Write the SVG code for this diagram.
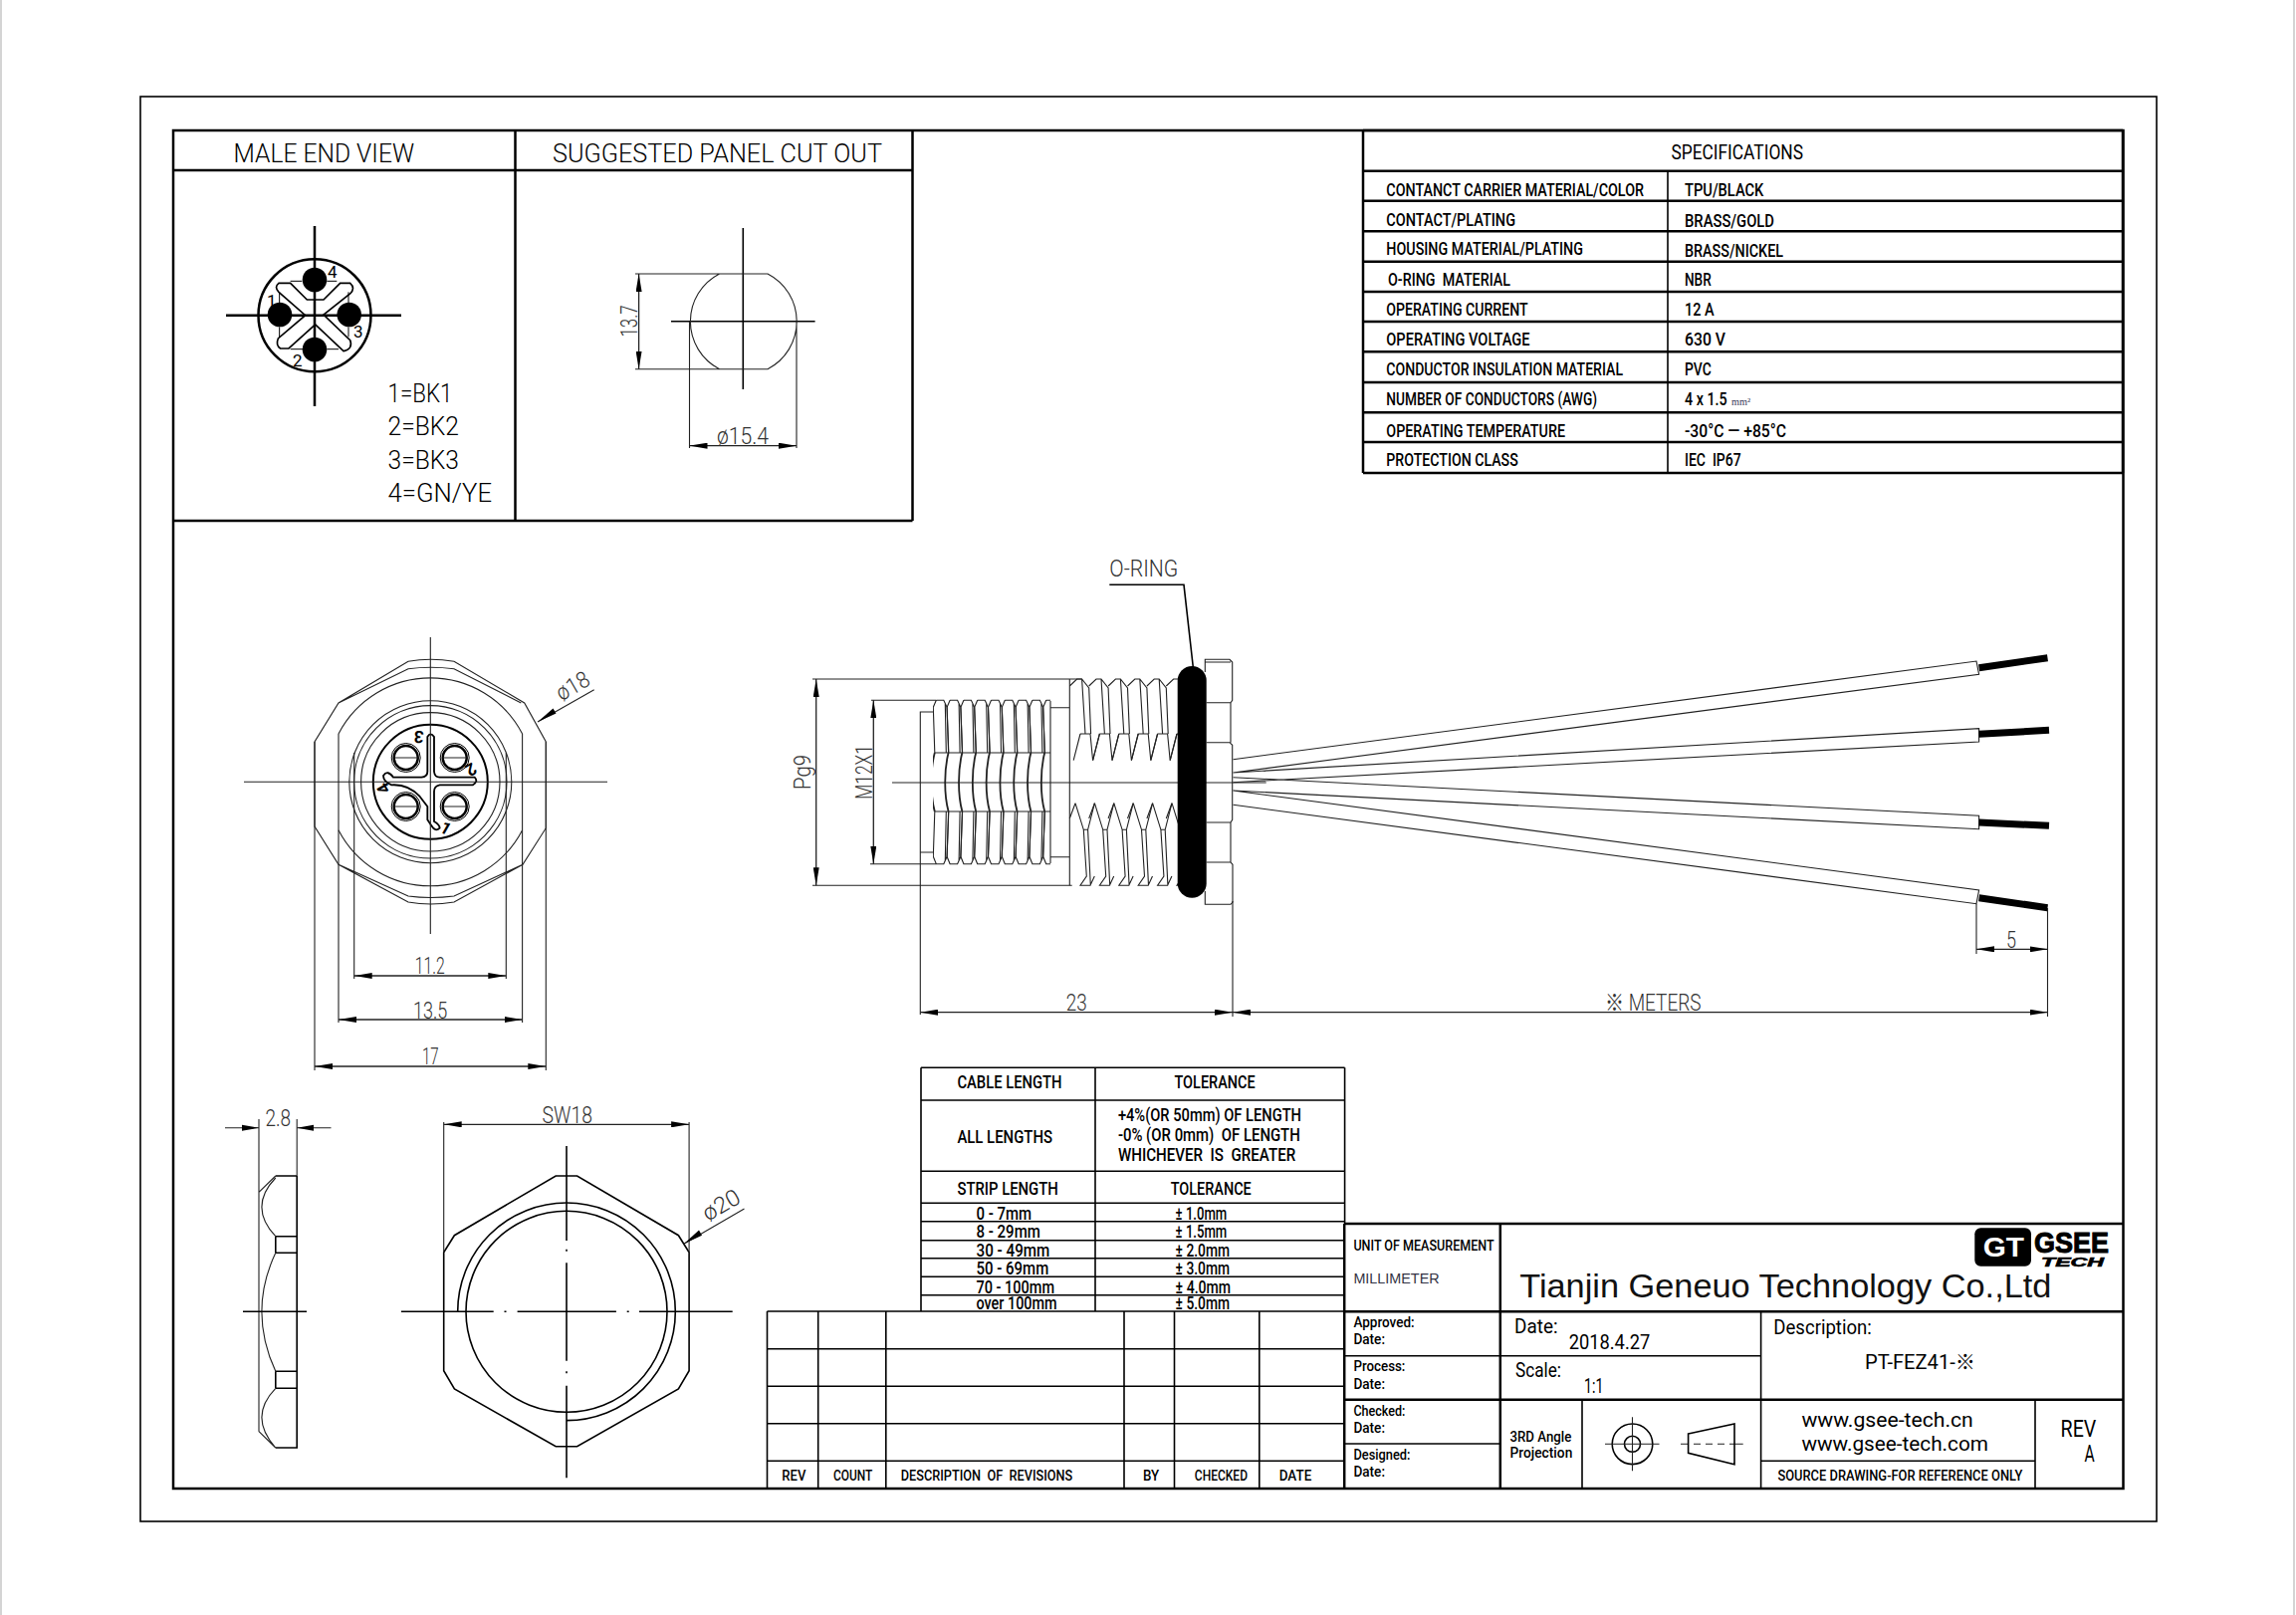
<svg xmlns="http://www.w3.org/2000/svg" width="2306" height="1622" viewBox="0 0 2306 1622">
<style>
text{font-family:"Liberation Sans",Arial,sans-serif;fill:#111}
.c{font-family:"Roboto","Liberation Sans",sans-serif;font-weight:300;fill:#000}
.n{font-family:"Roboto","Liberation Sans",sans-serif;font-weight:400;fill:#000}
.h{font-size:26px}.d{font-size:23px;fill:#333}
.b{font-family:"Roboto","Liberation Sans",sans-serif;font-weight:500;font-size:18px;fill:#000}
.s{font-size:15.5px}
.k{font-family:"Roboto","Liberation Sans",sans-serif;font-weight:700;font-size:17px;fill:#000;text-anchor:middle}
.f{fill:none;stroke:#000;stroke-width:2.5}
.m{fill:none;stroke:#000;stroke-width:1.6}
.t{fill:none;stroke:#222;stroke-width:1.1}
.dim{fill:none;stroke:#222;stroke-width:1.3;marker-start:url(#a);marker-end:url(#a)}
.w{fill:none;stroke:#000;stroke-width:7}
.th{fill:none;stroke:#222;stroke-width:1.1}
</style>
<defs>
<marker id="a" markerUnits="userSpaceOnUse" markerWidth="18" markerHeight="6" refX="18" refY="3" orient="auto-start-reverse"><path d="M0 0L18 3L0 6z" fill="#000"/></marker>
<clipPath id="cf"><rect x="937" y="700" width="118" height="170"/></clipPath>
<g id="f1"><path d="M3 0H10.5L13.8 7L15.5 52.7M3 0L0 7L1.5 52.7H15.5M12 3L13 52.7M1.5 111.7H15.5M1.5 111.7L0 157L3 164.4H10.500L13.8 157L15.5 111.7M12 161L13 111.7"/><path stroke-width="1.8" d="M1.5 52.7C-3 70-3 95 1.5 111.7"/></g>
<path id="r1" d="M0 7L7.3 0H12.3L19.4 9L21.3 55M12.3 0L15.7 55M10.7 55H20.7L23.3 81.7L30.1 55M10.7 55L3.9 81.7M5.7 124.7L14 151.3H18.3L25.1 124.7M5.7 124.7L0 140M14 151.3L17 198L10.7 207.3H20.7L25 198M18.3 151.3L21 207.3"/>
</defs>
<rect width="2306" height="1622" fill="#fff"/>
<path d="M1 0V1622M2304 0V1622" stroke="#d4d4d4" stroke-width="2" fill="none"/>

<g id="frame">
<rect x="141" y="97" width="2025" height="1431" fill="none" stroke="#000" stroke-width="1.6"/>
<rect x="174" y="131" width="1958.500" height="1364" class="f" fill="none"/>
</g>

<g id="male-end-view">
<path class="f" d="M174 171H916.500M517.500 131V523M916.500 131V523M174 523H916.500"/>
<text class="c h" x="234.500" y="162.500" textLength="181.500" lengthAdjust="spacingAndGlyphs">MALE END VIEW</text>
<circle cx="316" cy="316.700" r="56.500" class="f"/>
<path class="f" d="M227 316.700H403M316 227V408"/>
<g transform="translate(240 250) scale(.3333)">
<path fill="none" stroke="#000" stroke-width="5" d="M120 103H155L205 153H255L305 103H335Q352 118 335 135L255 198L335 275Q345 300 315 308L230 228L150 300H125Q110 290 118 270L200 200L120 130Q105 115 120 103Z"/>
<path fill="none" stroke="#000" stroke-width="3" d="M155 97H190M265 97H295M122 130V165M330 130V165M122 235V265M330 235V265M155 302H195M265 302H300"/>
</g>
<circle cx="316" cy="281" r="12.300"/><circle cx="350.700" cy="316" r="12.300"/><circle cx="316" cy="351" r="12.300"/><circle cx="281" cy="316" r="12.300"/>
<text class="n" font-size="17" x="329" y="279">4</text><text class="n" font-size="17" x="268" y="308">1</text><text class="n" font-size="17" x="355" y="339">3</text><text class="n" font-size="17" x="294" y="368">2</text>
<text class="c h" x="389.500" y="404" textLength="65" lengthAdjust="spacingAndGlyphs">1=BK1</text>
<text class="c h" x="389.500" y="437" textLength="71.500" lengthAdjust="spacingAndGlyphs">2=BK2</text>
<text class="c h" x="389.500" y="471" textLength="71.500" lengthAdjust="spacingAndGlyphs">3=BK3</text>
<text class="c h" x="389.500" y="504" textLength="104.500" lengthAdjust="spacingAndGlyphs">4=GN/YE</text>
</g>

<g id="panel-cut-out">
<text class="c h" x="555" y="162.500" textLength="331" lengthAdjust="spacingAndGlyphs">SUGGESTED PANEL CUT OUT</text>
<path class="m" d="M746.300 229V391M674 322.700H818.600"/>
<path class="t" d="M722.600 275H771A53.800 53.800 0 0 1 771 370.700H722.600A53.800 53.800 0 0 1 722.600 275ZM638 275H722.600M638 370.700H722.600M692.500 323V450M800 323V450"/>
<path class="dim" d="M641.600 275V370.700"/><path class="dim" d="M692.500 447.700H800"/>
<text class="c d" transform="translate(640 322.500) rotate(-90)" text-anchor="middle" textLength="32" lengthAdjust="spacingAndGlyphs">13.7</text>
<text class="c d" x="720" y="446" textLength="52" lengthAdjust="spacingAndGlyphs">ø15.4</text>
</g>

<g id="specifications">
<path class="f" d="M1369 131V475M2132 131V475M1369 131H2132M1369 171.700H2132M1369 201.700H2132M1369 232.300H2132M1369 262.700H2132M1369 293H2132M1369 323H2132M1369 353.300H2132M1369 384H2132M1369 414.300H2132M1369 444H2132M1369 475H2132"/>
<path class="m" d="M1675 171.700V475"/>
<text class="n" font-size="20" x="1678.400" y="160" textLength="132.600" lengthAdjust="spacingAndGlyphs">SPECIFICATIONS</text>
<text class="b" x="1392.300" y="197" textLength="258.700" lengthAdjust="spacingAndGlyphs">CONTANCT CARRIER MATERIAL/COLOR</text>
<text class="b" x="1392.300" y="227" textLength="129.700" lengthAdjust="spacingAndGlyphs">CONTACT/PLATING</text>
<text class="b" x="1392.300" y="256" textLength="197.700" lengthAdjust="spacingAndGlyphs">HOUSING MATERIAL/PLATING</text>
<text class="b" x="1394" y="287" textLength="123" lengthAdjust="spacingAndGlyphs" xml:space="preserve">O-RING  MATERIAL</text>
<text class="b" x="1392.300" y="317" textLength="142.300" lengthAdjust="spacingAndGlyphs">OPERATING CURRENT</text>
<text class="b" x="1392.300" y="347" textLength="144.300" lengthAdjust="spacingAndGlyphs">OPERATING VOLTAGE</text>
<text class="b" x="1392.300" y="377" textLength="237.700" lengthAdjust="spacingAndGlyphs">CONDUCTOR INSULATION MATERIAL</text>
<text class="b" x="1392.300" y="406.700" textLength="211.700" lengthAdjust="spacingAndGlyphs">NUMBER OF CONDUCTORS (AWG)</text>
<text class="b" x="1392.300" y="439" textLength="179.700" lengthAdjust="spacingAndGlyphs">OPERATING TEMPERATURE</text>
<text class="b" x="1392.300" y="468" textLength="132.400" lengthAdjust="spacingAndGlyphs">PROTECTION CLASS</text>
<text class="b" x="1692" y="197" textLength="79.400" lengthAdjust="spacingAndGlyphs">TPU/BLACK</text>
<text class="b" x="1692" y="228" textLength="90" lengthAdjust="spacingAndGlyphs">BRASS/GOLD</text>
<text class="b" x="1692" y="257.700" textLength="99" lengthAdjust="spacingAndGlyphs">BRASS/NICKEL</text>
<text class="b" x="1692" y="287" textLength="26.700" lengthAdjust="spacingAndGlyphs">NBR</text>
<text class="b" x="1692" y="317" textLength="29.700" lengthAdjust="spacingAndGlyphs">12 A</text>
<text class="b" x="1692" y="347" textLength="41" lengthAdjust="spacingAndGlyphs">630 V</text>
<text class="b" x="1692" y="377" textLength="26.700" lengthAdjust="spacingAndGlyphs">PVC</text>
<text class="b" x="1692" y="407" textLength="42.600" lengthAdjust="spacingAndGlyphs">4 x 1.5</text>
<text x="1739" y="407" font-size="11" style="font-family:'Liberation Serif',serif;fill:#335" textLength="19" lengthAdjust="spacingAndGlyphs">mm²</text>
<text class="b" x="1692" y="439" textLength="102" lengthAdjust="spacingAndGlyphs">-30°C — +85°C</text>
<text class="b" x="1692" y="468" textLength="56.600" lengthAdjust="spacingAndGlyphs" xml:space="preserve">IEC  IP67</text>
</g>

<g id="front-view">
<path class="t" d="M410 664.300Q432.300 660.300 456 664.300L526.700 706L548.300 745V831.700L525 868.300L456 906Q432.300 910 410 906L340 868.300L316 830V745L340 706ZM340 706L410 671.700Q432.300 668.700 456 671.700L523.300 706M340 868.300L410 900Q432.300 903 456 900L525 868.300"/>
<path class="t" d="M340 737A104 104 0 0 1 524.600 737M340 833.700A104 104 0 0 0 524.600 833.700"/>
<circle cx="432.300" cy="785.300" r="81.500" class="t"/><circle cx="432.300" cy="785.300" r="76.700" class="t"/><circle cx="432.300" cy="785.300" r="69.700" class="t"/>
<circle cx="432.300" cy="785.300" r="57.500" fill="none" stroke="#000" stroke-width="2"/>
<g transform="translate(350 700) scale(.3333)">
<path fill="none" stroke="#000" stroke-width="5.500" d="M238 120Q247 104 258 120V225Q260 242 275 242H380Q392 254 375 265H275Q258 268 258 285V375Q275 385 275 395Q262 408 250 388L238 370V330L215 300Q180 262 130 265Q105 255 105 237Q118 218 135 242H220Q238 240 238 225Z"/>
</g>
<g fill="#fff" stroke="#000">
<circle cx="407.700" cy="761" r="14.500" stroke-width="1"/><circle cx="456.700" cy="761" r="14.500" stroke-width="1"/><circle cx="407.700" cy="810" r="14.500" stroke-width="1"/><circle cx="456.700" cy="810" r="14.500" stroke-width="1"/>
<circle cx="407.700" cy="761" r="12" stroke-width="2.500"/><circle cx="456.700" cy="761" r="12" stroke-width="2.500"/><circle cx="407.700" cy="810" r="12" stroke-width="2.500"/><circle cx="456.700" cy="810" r="12" stroke-width="2.500"/>
</g>
<path class="t" d="M395.700 761H419.700M444.700 761H468.700M395.700 810H419.700M444.700 810H468.700"/>
<text class="k" transform="translate(420.700 740) rotate(185)" y="6">3</text>
<text class="k" transform="translate(473 773) rotate(150)" y="6">2</text>
<text class="k" transform="translate(385 791.700) rotate(-120)" y="6">4</text>
<text class="k" transform="translate(447.700 831.700) rotate(30)" y="6">1</text>
<path class="t" d="M245 785.300H610M432.300 640V938"/>
<path class="t" d="M355.700 756V983M508.300 756V983M340 737V1027M524.600 737V1027M316 745V1075M548.300 745V1075"/>
<path class="dim" d="M355.700 980H508.300"/><path class="dim" d="M340 1024H524.600"/><path class="dim" d="M316 1071H548.300"/>
<text class="c d" x="416.700" y="978" textLength="30" lengthAdjust="spacingAndGlyphs">11.2</text>
<text class="c d" x="415" y="1022.700" textLength="34.300" lengthAdjust="spacingAndGlyphs">13.5</text>
<text class="c d" x="424" y="1069.300" textLength="16.700" lengthAdjust="spacingAndGlyphs">17</text>
<path class="t" d="M540 725L596.700 692.700"/><path d="M540 725L555.500 711.500L558.500 716.500Z"/>
<text class="c d" transform="translate(564 704.500) rotate(-30)" textLength="35" lengthAdjust="spacingAndGlyphs">ø18</text>
</g>

<g id="connector-side-view">
<path class="t" d="M816 682H1086.700M816 889.300H1076.700M875 703.300H940M874 867.700H940"/>
<path class="dim" d="M819.700 682V889.300"/><path class="dim" d="M877.300 703.300V867.700"/>
<text class="c d" transform="translate(814.300 775.500) rotate(-90)" text-anchor="middle" textLength="35" lengthAdjust="spacingAndGlyphs">Pg9</text>
<text class="c d" transform="translate(876 775.500) rotate(-90)" text-anchor="middle" textLength="54.500" lengthAdjust="spacingAndGlyphs">M12X1</text>
<path class="th" d="M924.300 1019V715H937.300M924.300 856H937.300"/>
<path class="t" d="M896 786H1271.700"/>
<g clip-path="url(#cf)" class="th">
<use href="#f1" x="937.300" y="703.300"/><use href="#f1" x="951.100" y="703.300"/><use href="#f1" x="964.900" y="703.300"/><use href="#f1" x="978.700" y="703.300"/><use href="#f1" x="992.500" y="703.300"/><use href="#f1" x="1006.300" y="703.300"/><use href="#f1" x="1020.100" y="703.300"/><use href="#f1" x="1033.900" y="703.300"/><use href="#f1" x="1047.700" y="703.300"/>
</g>
<path class="th" d="M1055 704V867M1055 710.700H1074.300M1055 860.700H1074.300M1074.300 682V889.300"/>
<g class="th">
<use href="#r1" x="1074.300" y="682"/><use href="#r1" x="1093.700" y="682"/><use href="#r1" x="1113.100" y="682"/><use href="#r1" x="1132.500" y="682"/><use href="#r1" x="1151.900" y="682"/><use href="#r1" x="1171.300" y="682"/>
</g>
<path class="t" d="M1210.300 675V662.300H1235L1237.700 665V703.300L1236 705.700H1211.700M1210.300 665H1236M1236 705.700V745.700M1211.700 745.700H1235L1237.700 748.300V823.300L1236 826H1211.700M1236 826V866M1211.700 866H1236L1238 868.300V906L1236 908.300H1210.300V895"/>
<rect x="1182.700" y="669" width="29" height="232.700" rx="14.500"/>
<text class="c" font-size="23" x="1114.300" y="579" style="fill:#333" textLength="69" lengthAdjust="spacingAndGlyphs">O-RING</text>
<path class="m" d="M1114.300 587.300H1189L1198.300 670"/>
</g>

<g id="cable-wires">
<path class="t" d="M1238.500 762.700L1985 664L1987.600 677.300L1238.500 776L1987.600 731.700V745L1238.500 785.700M1238.500 780.700L1987.600 819.300V832.700L1238.500 794L1987.600 894L1985 907.700L1238.500 808.300"/>
<path class="w" d="M1987.600 670.700L2056.500 660.700M1987.600 737.300L2058 733.300M1987.600 826L2058 829.300M1987.600 901.700L2056.500 911.700"/>
<path class="t" d="M1985 908V958M2056.500 912V1021M1238 905V1021"/>
<path class="dim" d="M1985 953.300H2056.500"/><path class="dim" d="M924.300 1016.700H1238"/><path class="dim" d="M1238 1016.700H2056.500"/>
<text class="c d" x="2015" y="952.300" textLength="10" lengthAdjust="spacingAndGlyphs">5</text>
<text class="c d" x="1070.700" y="1015" textLength="21" lengthAdjust="spacingAndGlyphs">23</text>
<text class="c d" x="1612" y="1015" textLength="96.600" lengthAdjust="spacingAndGlyphs" style="font-family:Roboto,'Noto Sans CJK SC',sans-serif">※ METERS</text>
</g>

<g id="nut-side-view">
<path class="m" d="M298.200 1181H276.800M298.200 1181V1454H276.800M276.800 1241.700H298.200M276.800 1258.300H298.200M276.800 1377.300H298.200M276.800 1394.300H298.200M276.800 1241.700V1258.300M276.800 1377.300V1394.300"/>
<path class="t" d="M260 1124V1437.700M298.200 1124V1181M276.800 1181L260 1197.300M276.800 1183Q249 1212 276.800 1241.700M276.800 1258.300Q249 1317 276.800 1377.300M276.800 1394.300Q249 1423 276.800 1454L260 1437.700"/>
<path class="m" d="M244 1317.300H308"/>
<path class="t" d="M226 1132.700H260M298.200 1132.700H332.500"/>
<path d="M260 1132.700L243 1129.700V1135.700ZM298.200 1132.700L315 1129.700V1135.700Z"/>
<text class="c d" x="266.400" y="1131" textLength="25.600" lengthAdjust="spacingAndGlyphs">2.8</text>
</g>

<g id="nut-front-view">
<path class="m" stroke-width="2" d="M445.700 1257.700V1376.700L456.400 1395L558.200 1452.700H579.600L681.400 1395L692.100 1376.700V1257.700L681.400 1240.700L579.600 1181H558.200L456.400 1240.700Z"/>
<circle cx="569" cy="1317.300" r="101" class="m"/>
<path class="m" d="M459.700 1317.300A109.300 109.300 0 1 1 569 1426.600"/>
<path class="m" d="M402.900 1317.300H495.700M506.500 1317.300H508.500M519.600 1317.300H618.900M629.700 1317.300H631.700M642 1317.300H735.700M569 1151V1246M569 1254.700V1256.700M569 1268.300V1366.700M569 1377.300V1379.300M569 1391.700V1484.300"/>
<path class="t" d="M445.700 1127V1257.700M692.100 1127V1257.700"/>
<path class="dim" d="M445.700 1129.300H692.100"/>
<text class="c d" x="544.600" y="1127.700" textLength="50.400" lengthAdjust="spacingAndGlyphs">SW18</text>
<path class="t" d="M686.800 1249.300L747.500 1214"/><path d="M686.800 1249.300L702 1235.500L705 1240.700Z"/>
<text class="c d" transform="translate(711 1227) rotate(-30)" textLength="40" lengthAdjust="spacingAndGlyphs">ø20</text>
</g>

<g id="tolerance-table">
<path class="m" stroke-width="2" d="M925 1072.300V1317M1100 1072.300V1317M1350.600 1072.300V1229M925 1072.300H1350.600M925 1105H1350.600M925 1176.300H1350.600M925 1208.300H1350.600M925 1226.700H1350.600M925 1245.700H1350.600M925 1263.700H1350.600M925 1282.300H1350.600M925 1300.700H1350.600"/>
<text class="b" x="961.400" y="1093.300" textLength="105.200" lengthAdjust="spacingAndGlyphs">CABLE LENGTH</text>
<text class="b" x="1179.500" y="1093.300" textLength="81.100" lengthAdjust="spacingAndGlyphs">TOLERANCE</text>
<text class="b" x="961.400" y="1148.300" textLength="95.600" lengthAdjust="spacingAndGlyphs">ALL LENGTHS</text>
<text class="b" x="1122.900" y="1126" textLength="184.100" lengthAdjust="spacingAndGlyphs">+4%(OR 50mm) OF LENGTH</text>
<text class="b" x="1122.900" y="1146" textLength="182.900" lengthAdjust="spacingAndGlyphs" xml:space="preserve">-0% (OR 0mm)  OF LENGTH</text>
<text class="b" x="1122.900" y="1166" textLength="178.300" lengthAdjust="spacingAndGlyphs" xml:space="preserve">WHICHEVER  IS  GREATER</text>
<text class="b" x="961.400" y="1200" textLength="101.400" lengthAdjust="spacingAndGlyphs">STRIP LENGTH</text>
<text class="b" x="1175.700" y="1200" textLength="81.100" lengthAdjust="spacingAndGlyphs">TOLERANCE</text>
<text class="b" x="980.500" y="1225" textLength="55.500" lengthAdjust="spacingAndGlyphs">0 - 7mm</text>
<text class="b" x="980.500" y="1243.300" textLength="64.300" lengthAdjust="spacingAndGlyphs">8 - 29mm</text>
<text class="b" x="980.500" y="1261.700" textLength="73.800" lengthAdjust="spacingAndGlyphs">30 - 49mm</text>
<text class="b" x="980.500" y="1280" textLength="72.700" lengthAdjust="spacingAndGlyphs">50 - 69mm</text>
<text class="b" x="980.500" y="1298.700" textLength="78.500" lengthAdjust="spacingAndGlyphs">70 - 100mm</text>
<text class="b" x="980.500" y="1315.300" textLength="81.100" lengthAdjust="spacingAndGlyphs">over 100mm</text>
<text class="b" x="1180.600" y="1225" textLength="51.700" lengthAdjust="spacingAndGlyphs">± 1.0mm</text>
<text class="b" x="1180.600" y="1243.300" textLength="51.700" lengthAdjust="spacingAndGlyphs">± 1.5mm</text>
<text class="b" x="1180.600" y="1261.700" textLength="54.400" lengthAdjust="spacingAndGlyphs">± 2.0mm</text>
<text class="b" x="1180.600" y="1280" textLength="54.400" lengthAdjust="spacingAndGlyphs">± 3.0mm</text>
<text class="b" x="1180.600" y="1298.700" textLength="55.500" lengthAdjust="spacingAndGlyphs">± 4.0mm</text>
<text class="b" x="1180.600" y="1315.300" textLength="54.400" lengthAdjust="spacingAndGlyphs">± 5.0mm</text>
</g>

<g id="revision-table">
<path class="m" stroke-width="2" d="M770.500 1317V1495M821.700 1317V1495M889.800 1317V1495M1129 1317V1495M1179.500 1317V1495M1264.800 1317V1495M770.500 1317H1350.600M770.500 1354.700H1350.600M770.500 1392.300H1350.600M770.500 1429.700H1350.600M770.500 1467.300H1350.600"/>
<text class="b s" x="785.300" y="1487.300" textLength="24.100" lengthAdjust="spacingAndGlyphs">REV</text>
<text class="b s" x="837" y="1487.300" textLength="39.400" lengthAdjust="spacingAndGlyphs">COUNT</text>
<text class="b s" x="904.700" y="1487.300" textLength="172.600" lengthAdjust="spacingAndGlyphs" xml:space="preserve">DESCRIPTION  OF  REVISIONS</text>
<text class="b s" x="1148" y="1487.300" textLength="16.200" lengthAdjust="spacingAndGlyphs">BY</text>
<text class="b s" x="1199.800" y="1487.300" textLength="53.200" lengthAdjust="spacingAndGlyphs">CHECKED</text>
<text class="b s" x="1284.700" y="1487.300" textLength="32.600" lengthAdjust="spacingAndGlyphs">DATE</text>
</g>

<g id="title-block">
<path class="f" d="M1350.200 1229H2132M1350.200 1317.300H2132M1350.200 1405.700H2132M1350.200 1229V1495M1506.800 1229V1495"/>
<path class="m" stroke-width="2" d="M1350.200 1361.700H1768.600M1350.200 1450H1506.800M1768.600 1317.300V1495M1589 1405.700V1495M2044 1405.700V1495M1768.600 1467.300H2044"/>
<text class="b s" x="1359.400" y="1256" textLength="141.300" lengthAdjust="spacingAndGlyphs">UNIT OF MEASUREMENT</text>
<text x="1359.400" y="1289" font-size="14" textLength="86.200" lengthAdjust="spacingAndGlyphs" style="fill:#334">MILLIMETER</text>
<text x="1526.200" y="1302.700" font-size="34" textLength="534.200" lengthAdjust="spacingAndGlyphs">Tianjin Geneuo Technology Co.,Ltd</text>
<text class="b s" x="1359.400" y="1333.300" textLength="61.200" lengthAdjust="spacingAndGlyphs">Approved:</text>
<text class="b s" x="1359.400" y="1350.300" textLength="31.600" lengthAdjust="spacingAndGlyphs">Date:</text>
<text class="b s" x="1359.400" y="1377.300" textLength="52" lengthAdjust="spacingAndGlyphs">Process:</text>
<text class="b s" x="1359.400" y="1395" textLength="31.600" lengthAdjust="spacingAndGlyphs">Date:</text>
<text class="b s" x="1359.400" y="1421.700" textLength="52" lengthAdjust="spacingAndGlyphs">Checked:</text>
<text class="b s" x="1359.400" y="1439" textLength="31.600" lengthAdjust="spacingAndGlyphs">Date:</text>
<text class="b s" x="1359.400" y="1466" textLength="57" lengthAdjust="spacingAndGlyphs">Designed:</text>
<text class="b s" x="1359.400" y="1483.300" textLength="31.600" lengthAdjust="spacingAndGlyphs">Date:</text>
<text class="n" font-size="20" x="1521" y="1339" textLength="43.500" lengthAdjust="spacingAndGlyphs">Date:</text>
<text class="n" font-size="21" x="1575.700" y="1355" textLength="81.600" lengthAdjust="spacingAndGlyphs">2018.4.27</text>
<text class="n" font-size="20" x="1522" y="1383.300" textLength="46" lengthAdjust="spacingAndGlyphs">Scale:</text>
<text class="n" font-size="21" x="1591" y="1399" textLength="19.400" lengthAdjust="spacingAndGlyphs">1:1</text>
<text class="n" font-size="20" x="1781.300" y="1340" textLength="98.500" lengthAdjust="spacingAndGlyphs">Description:</text>
<text class="n" font-size="21" x="1873" y="1375.300" textLength="110.900" lengthAdjust="spacingAndGlyphs" style="font-family:Roboto,'Noto Sans CJK SC',sans-serif">PT-FEZ41-※</text>
<text class="b s" x="1516.500" y="1447.700" textLength="61.800" lengthAdjust="spacingAndGlyphs">3RD Angle</text>
<text class="b s" x="1516.500" y="1464.300" textLength="62.800" lengthAdjust="spacingAndGlyphs">Projection</text>
<circle cx="1639.500" cy="1450.300" r="20.300" class="m" stroke-width="2"/><circle cx="1639.500" cy="1450.300" r="8" class="m" stroke-width="2"/>
<path class="t" d="M1612 1450.300H1666.500M1639.500 1423.300V1477.300M1688 1450.300H1696M1701 1450.300H1708M1713 1450.300H1720M1725 1450.300H1732M1737 1450.300H1750.700"/>
<path class="m" stroke-width="2" d="M1695.600 1440L1742 1430V1470.700L1695.600 1459.300Z"/>
<text class="n" font-size="21" x="1809.400" y="1433" textLength="172.400" lengthAdjust="spacingAndGlyphs">www.gsee-tech.cn</text>
<text class="n" font-size="21" x="1809.400" y="1456.700" textLength="187.600" lengthAdjust="spacingAndGlyphs">www.gsee-tech.com</text>
<text class="b s" x="1785.400" y="1486.700" textLength="245.900" lengthAdjust="spacingAndGlyphs">SOURCE DRAWING-FOR REFERENCE ONLY</text>
<text class="n" font-size="24" x="2069.600" y="1443.300" textLength="35.700" lengthAdjust="spacingAndGlyphs">REV</text>
<text class="n" font-size="24" x="2093.600" y="1468.300" textLength="10.200" lengthAdjust="spacingAndGlyphs">A</text>
</g>

<g id="logo">
<rect x="1983.300" y="1233.300" width="56.700" height="38.400" rx="6"/>
<text x="1991.700" y="1261.700" font-size="28" font-weight="700" textLength="41.300" lengthAdjust="spacingAndGlyphs" style="fill:#fff">GT</text>
<text x="2043" y="1258" font-size="29" font-weight="700" textLength="75" lengthAdjust="spacingAndGlyphs" style="fill:#000;stroke:#000;stroke-width:1">GSEE</text>
<text x="2050" y="1271.700" font-size="12" font-weight="700" font-style="italic" textLength="63" lengthAdjust="spacingAndGlyphs" style="fill:#000;stroke:#000;stroke-width:.6">TECH</text>
</g>
</svg>
